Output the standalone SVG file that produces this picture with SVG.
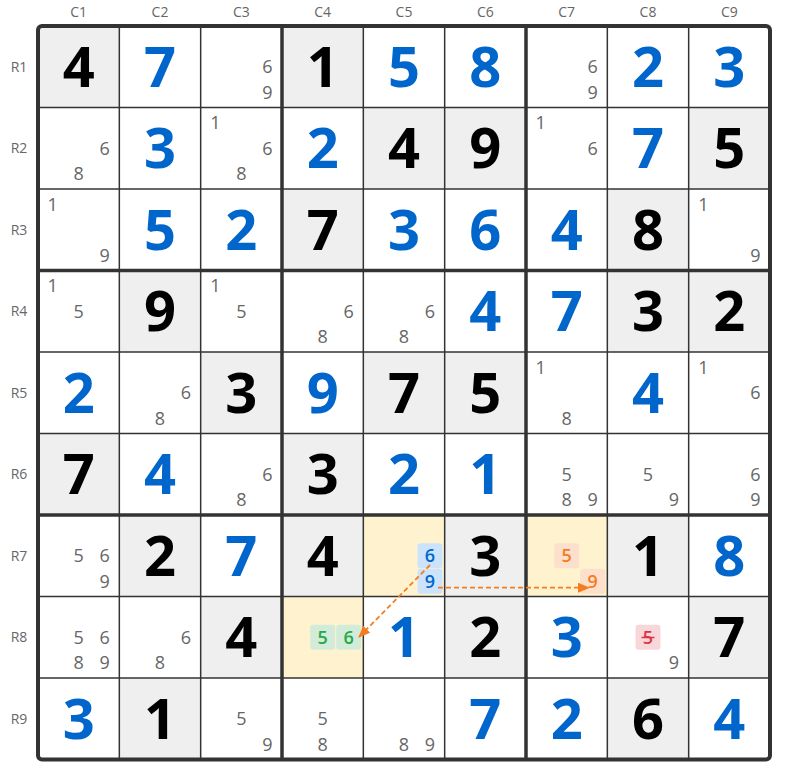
<svg xmlns="http://www.w3.org/2000/svg" width="785" height="776" viewBox="0 0 785 776">
<style>
.g{fill:#efefef}
.y{fill:#fff3cf}
.gv{font-family:"Open Sans","Noto Sans",sans-serif;font-weight:700;font-size:56px;fill:#000;text-anchor:middle}
.sv{font-family:"Open Sans","Noto Sans",sans-serif;font-weight:700;font-size:56px;fill:#0066cc;text-anchor:middle}
.c{font-family:"Open Sans","Noto Sans",sans-serif;font-size:18px;fill:#666;text-anchor:middle}
.hc{font-family:"Open Sans","Noto Sans",sans-serif;font-size:18px;font-weight:600;text-anchor:middle}
.lb{font-family:"Open Sans","Noto Sans",sans-serif;font-size:14px;fill:#666;text-anchor:middle}
.thin{stroke:#333;stroke-width:1.5}
.thick{stroke:#333;stroke-width:3.5}
.arr{stroke:#f57c1f;stroke-width:1.8;stroke-dasharray:5,3;fill:none;marker-end:url(#ah)}
</style>
<defs>
<marker id="ah" markerUnits="userSpaceOnUse" markerWidth="12" markerHeight="10" refX="11" refY="5" orient="auto">
<path d="M0,0 L12,5 L0,10 Z" fill="#f57c1f"/>
</marker>
</defs>
<rect width="785" height="776" fill="#fff"/>
<g id="labels">
<text class="lb" x="78.67" y="17">C1</text><text class="lb" x="160" y="17">C2</text><text class="lb" x="241.33" y="17">C3</text><text class="lb" x="322.67" y="17">C4</text><text class="lb" x="404" y="17">C5</text><text class="lb" x="485.33" y="17">C6</text><text class="lb" x="566.67" y="17">C7</text><text class="lb" x="648" y="17">C8</text><text class="lb" x="729.33" y="17">C9</text>
<text class="lb" x="19" y="71.5">R1</text><text class="lb" x="19" y="153">R2</text><text class="lb" x="19" y="234.5">R3</text><text class="lb" x="19" y="316">R4</text><text class="lb" x="19" y="397.5">R5</text><text class="lb" x="19" y="479">R6</text><text class="lb" x="19" y="560.5">R7</text><text class="lb" x="19" y="642">R8</text><text class="lb" x="19" y="723.5">R9</text>
</g>
<!-- Row 1 -->
<g id="r1c1"><rect class="g" x="38" y="26" width="81.33" height="81.5"/><text class="gv" x="78.67" y="86.75">4</text></g>
<g id="r1c2"><text class="sv" x="160" y="86.75">7</text></g>
<g id="r1c3"><text class="c" x="267.33" y="73">6</text><text class="c" x="267.33" y="98.5">9</text></g>
<g id="r1c4"><rect class="g" x="282" y="26" width="81.33" height="81.5"/><text class="gv" x="322.67" y="86.75">1</text></g>
<g id="r1c5"><text class="sv" x="404" y="86.75">5</text></g>
<g id="r1c6"><text class="sv" x="485.33" y="86.75">8</text></g>
<g id="r1c7"><text class="c" x="592.67" y="73">6</text><text class="c" x="592.67" y="98.5">9</text></g>
<g id="r1c8"><text class="sv" x="648" y="86.75">2</text></g>
<g id="r1c9"><text class="sv" x="729.33" y="86.75">3</text></g>
<!-- Row 2 -->
<g id="r2c1"><text class="c" x="104.67" y="154.5">6</text><text class="c" x="78.67" y="180">8</text></g>
<g id="r2c2"><text class="sv" x="160" y="168.25">3</text></g>
<g id="r2c3"><text class="c" x="215.33" y="129">1</text><text class="c" x="267.33" y="154.5">6</text><text class="c" x="241.33" y="180">8</text></g>
<g id="r2c4"><text class="sv" x="322.67" y="168.25">2</text></g>
<g id="r2c5"><rect class="g" x="363.33" y="107.5" width="81.33" height="81.5"/><text class="gv" x="404" y="168.25">4</text></g>
<g id="r2c6"><rect class="g" x="444.67" y="107.5" width="81.33" height="81.5"/><text class="gv" x="485.33" y="168.25">9</text></g>
<g id="r2c7"><text class="c" x="540.67" y="129">1</text><text class="c" x="592.67" y="154.5">6</text></g>
<g id="r2c8"><text class="sv" x="648" y="168.25">7</text></g>
<g id="r2c9"><rect class="g" x="688.67" y="107.5" width="81.33" height="81.5"/><text class="gv" x="729.33" y="168.25">5</text></g>
<!-- Row 3 -->
<g id="r3c1"><text class="c" x="52.67" y="210.5">1</text><text class="c" x="104.67" y="261.5">9</text></g>
<g id="r3c2"><text class="sv" x="160" y="249.75">5</text></g>
<g id="r3c3"><text class="sv" x="241.33" y="249.75">2</text></g>
<g id="r3c4"><rect class="g" x="282" y="189" width="81.33" height="81.5"/><text class="gv" x="322.67" y="249.75">7</text></g>
<g id="r3c5"><text class="sv" x="404" y="249.75">3</text></g>
<g id="r3c6"><text class="sv" x="485.33" y="249.75">6</text></g>
<g id="r3c7"><text class="sv" x="566.67" y="249.75">4</text></g>
<g id="r3c8"><rect class="g" x="607.33" y="189" width="81.33" height="81.5"/><text class="gv" x="648" y="249.75">8</text></g>
<g id="r3c9"><text class="c" x="703.33" y="210.5">1</text><text class="c" x="755.33" y="261.5">9</text></g>
<!-- Row 4 -->
<g id="r4c1"><text class="c" x="52.67" y="292">1</text><text class="c" x="78.67" y="317.5">5</text></g>
<g id="r4c2"><rect class="g" x="119.33" y="270.5" width="81.33" height="81.5"/><text class="gv" x="160" y="331.25">9</text></g>
<g id="r4c3"><text class="c" x="215.33" y="292">1</text><text class="c" x="241.33" y="317.5">5</text></g>
<g id="r4c4"><text class="c" x="348.67" y="317.5">6</text><text class="c" x="322.67" y="343">8</text></g>
<g id="r4c5"><text class="c" x="430" y="317.5">6</text><text class="c" x="404" y="343">8</text></g>
<g id="r4c6"><text class="sv" x="485.33" y="331.25">4</text></g>
<g id="r4c7"><text class="sv" x="566.67" y="331.25">7</text></g>
<g id="r4c8"><rect class="g" x="607.33" y="270.5" width="81.33" height="81.5"/><text class="gv" x="648" y="331.25">3</text></g>
<g id="r4c9"><rect class="g" x="688.67" y="270.5" width="81.33" height="81.5"/><text class="gv" x="729.33" y="331.25">2</text></g>
<!-- Row 5 -->
<g id="r5c1"><text class="sv" x="78.67" y="412.75">2</text></g>
<g id="r5c2"><text class="c" x="186" y="399">6</text><text class="c" x="160" y="424.5">8</text></g>
<g id="r5c3"><rect class="g" x="200.67" y="352" width="81.33" height="81.5"/><text class="gv" x="241.33" y="412.75">3</text></g>
<g id="r5c4"><text class="sv" x="322.67" y="412.75">9</text></g>
<g id="r5c5"><rect class="g" x="363.33" y="352" width="81.33" height="81.5"/><text class="gv" x="404" y="412.75">7</text></g>
<g id="r5c6"><rect class="g" x="444.67" y="352" width="81.33" height="81.5"/><text class="gv" x="485.33" y="412.75">5</text></g>
<g id="r5c7"><text class="c" x="540.67" y="373.5">1</text><text class="c" x="566.67" y="424.5">8</text></g>
<g id="r5c8"><text class="sv" x="648" y="412.75">4</text></g>
<g id="r5c9"><text class="c" x="703.33" y="373.5">1</text><text class="c" x="755.33" y="399">6</text></g>
<!-- Row 6 -->
<g id="r6c1"><rect class="g" x="38" y="433.5" width="81.33" height="81.5"/><text class="gv" x="78.67" y="494.25">7</text></g>
<g id="r6c2"><text class="sv" x="160" y="494.25">4</text></g>
<g id="r6c3"><text class="c" x="267.33" y="480.5">6</text><text class="c" x="241.33" y="506">8</text></g>
<g id="r6c4"><rect class="g" x="282" y="433.5" width="81.33" height="81.5"/><text class="gv" x="322.67" y="494.25">3</text></g>
<g id="r6c5"><text class="sv" x="404" y="494.25">2</text></g>
<g id="r6c6"><text class="sv" x="485.33" y="494.25">1</text></g>
<g id="r6c7"><text class="c" x="566.67" y="480.5">5</text><text class="c" x="566.67" y="506">8</text><text class="c" x="592.67" y="506">9</text></g>
<g id="r6c8"><text class="c" x="648" y="480.5">5</text><text class="c" x="674" y="506">9</text></g>
<g id="r6c9"><text class="c" x="755.33" y="480.5">6</text><text class="c" x="755.33" y="506">9</text></g>
<!-- Row 7 -->
<g id="r7c1"><text class="c" x="78.67" y="562">5</text><text class="c" x="104.67" y="562">6</text><text class="c" x="104.67" y="587.5">9</text></g>
<g id="r7c2"><rect class="g" x="119.33" y="515" width="81.33" height="81.5"/><text class="gv" x="160" y="575.75">2</text></g>
<g id="r7c3"><text class="sv" x="241.33" y="575.75">7</text></g>
<g id="r7c4"><rect class="g" x="282" y="515" width="81.33" height="81.5"/><text class="gv" x="322.67" y="575.75">4</text></g>
<g id="r7c5"><rect class="y" x="363.33" y="515" width="81.33" height="81.5"/>
<rect x="417.5" y="543.25" width="25" height="25" rx="3" fill="#cce3fb"/><rect x="417.5" y="568.75" width="25" height="25" rx="3" fill="#cce3fb"/>
<text class="hc" x="430" y="562" fill="#0066cc">6</text><text class="hc" x="430" y="587.5" fill="#0066cc">9</text></g>
<g id="r7c6"><rect class="g" x="444.67" y="515" width="81.33" height="81.5"/><text class="gv" x="485.33" y="575.75">3</text></g>
<g id="r7c7"><rect class="y" x="526" y="515" width="81.33" height="81.5"/>
<rect x="554.17" y="543.25" width="25" height="25" rx="3" fill="#fde0cc"/><rect x="580.17" y="568.75" width="25" height="25" rx="3" fill="#fde0cc"/>
<text class="hc" x="566.67" y="562" fill="#f57c1f">5</text><text class="hc" x="592.67" y="587.5" fill="#f57c1f">9</text></g>
<g id="r7c8"><rect class="g" x="607.33" y="515" width="81.33" height="81.5"/><text class="gv" x="648" y="575.75">1</text></g>
<g id="r7c9"><text class="sv" x="729.33" y="575.75">8</text></g>
<!-- Row 8 -->
<g id="r8c1"><text class="c" x="78.67" y="643.5">5</text><text class="c" x="104.67" y="643.5">6</text><text class="c" x="78.67" y="669">8</text><text class="c" x="104.67" y="669">9</text></g>
<g id="r8c2"><text class="c" x="186" y="643.5">6</text><text class="c" x="160" y="669">8</text></g>
<g id="r8c3"><rect class="g" x="200.67" y="596.5" width="81.33" height="81.5"/><text class="gv" x="241.33" y="657.25">4</text></g>
<g id="r8c4"><rect class="y" x="282" y="596.5" width="81.33" height="81.5"/>
<rect x="310.17" y="624.75" width="25" height="25" rx="3" fill="#d3ecd9"/><rect x="336.17" y="624.75" width="25" height="25" rx="3" fill="#d3ecd9"/>
<text class="hc" x="322.67" y="643.5" fill="#28a745">5</text><text class="hc" x="348.67" y="643.5" fill="#28a745">6</text></g>
<g id="r8c5"><text class="sv" x="404" y="657.25">1</text></g>
<g id="r8c6"><rect class="g" x="444.67" y="596.5" width="81.33" height="81.5"/><text class="gv" x="485.33" y="657.25">2</text></g>
<g id="r8c7"><text class="sv" x="566.67" y="657.25">3</text></g>
<g id="r8c8"><rect x="635.5" y="624.75" width="25" height="25" rx="3" fill="#f8d7da"/>
<text class="hc" x="648" y="643.5" fill="#dc3545">5</text><line x1="641.5" y1="637.5" x2="654.5" y2="637.5" stroke="#dc3545" stroke-width="1.5"/>
<text class="c" x="674" y="669">9</text></g>
<g id="r8c9"><rect class="g" x="688.67" y="596.5" width="81.33" height="81.5"/><text class="gv" x="729.33" y="657.25">7</text></g>
<!-- Row 9 -->
<g id="r9c1"><text class="sv" x="78.67" y="738.75">3</text></g>
<g id="r9c2"><rect class="g" x="119.33" y="678" width="81.33" height="81.5"/><text class="gv" x="160" y="738.75">1</text></g>
<g id="r9c3"><text class="c" x="241.33" y="725">5</text><text class="c" x="267.33" y="750.5">9</text></g>
<g id="r9c4"><text class="c" x="322.67" y="725">5</text><text class="c" x="322.67" y="750.5">8</text></g>
<g id="r9c5"><text class="c" x="404" y="750.5">8</text><text class="c" x="430" y="750.5">9</text></g>
<g id="r9c6"><text class="sv" x="485.33" y="738.75">7</text></g>
<g id="r9c7"><text class="sv" x="566.67" y="738.75">2</text></g>
<g id="r9c8"><rect class="g" x="607.33" y="678" width="81.33" height="81.5"/><text class="gv" x="648" y="738.75">6</text></g>
<g id="r9c9"><text class="sv" x="729.33" y="738.75">4</text></g>
<g id="grid">
<line class="thin" x1="119.33" y1="26" x2="119.33" y2="759.5"/>
<line class="thin" x1="200.67" y1="26" x2="200.67" y2="759.5"/>
<line class="thin" x1="363.33" y1="26" x2="363.33" y2="759.5"/>
<line class="thin" x1="444.67" y1="26" x2="444.67" y2="759.5"/>
<line class="thin" x1="607.33" y1="26" x2="607.33" y2="759.5"/>
<line class="thin" x1="688.67" y1="26" x2="688.67" y2="759.5"/>
<line class="thin" x1="38" y1="107.5" x2="770" y2="107.5"/>
<line class="thin" x1="38" y1="189" x2="770" y2="189"/>
<line class="thin" x1="38" y1="352" x2="770" y2="352"/>
<line class="thin" x1="38" y1="433.5" x2="770" y2="433.5"/>
<line class="thin" x1="38" y1="596.5" x2="770" y2="596.5"/>
<line class="thin" x1="38" y1="678" x2="770" y2="678"/>
<line class="thick" x1="282" y1="26" x2="282" y2="759.5"/>
<line class="thick" x1="526" y1="26" x2="526" y2="759.5"/>
<line class="thick" x1="38" y1="270.5" x2="770" y2="270.5"/>
<line class="thick" x1="38" y1="515" x2="770" y2="515"/>
<rect x="38" y="26" width="732" height="733.5" rx="4" fill="none" stroke="#333" stroke-width="4"/>
</g>
<g id="connectors">
<line class="arr" x1="430" y1="565" x2="359" y2="637"/>
<line class="arr" x1="438" y1="587.7" x2="589" y2="587.7"/>
</g>
</svg>
